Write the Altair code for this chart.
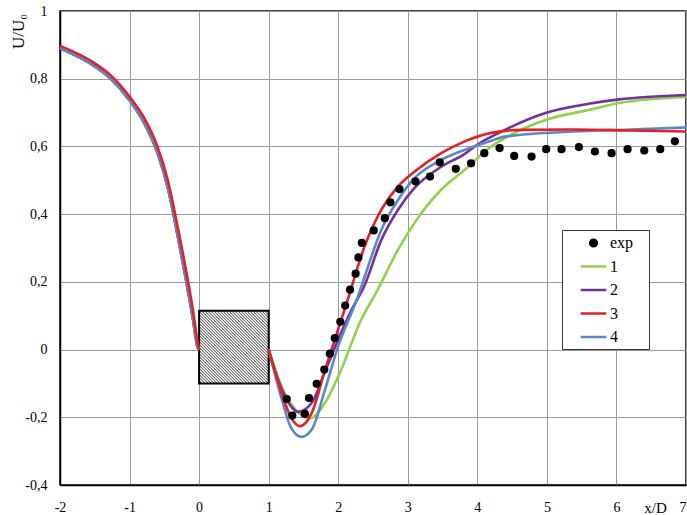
import altair as alt
import pandas as pd
import numpy as np

# ---------------- data ----------------
series_names = ["exp", "1", "2", "3", "4"]
series_colors = ["black", "#92d050", "#7030a0", "#e41f26", "#5b87c6"]

# upstream part (x < 0), common shape for all simulations
up_x = [-2.0, -1.51, -1.27, -1.0, -0.79, -0.6, -0.45, -0.31, -0.19, -0.09, -0.02, 0.0]
up_y_3 = [0.897, 0.847, 0.810, 0.747, 0.684, 0.600, 0.500, 0.364, 0.236, 0.118, 0.020, 0.0]
up_y_other = [0.890, 0.838, 0.800, 0.736, 0.669, 0.582, 0.478, 0.338, 0.208, 0.092, 0.005, 0.0]

# downstream part (x > 1)
d1_x = [1.0, 1.17, 1.32, 1.45, 1.6, 1.81, 2.0, 2.33, 2.55, 2.86, 3.1, 3.48, 3.82, 4.2, 4.4, 4.98, 5.6, 6.04, 7.0]
d1_y = [0.0, -0.10, -0.16, -0.19, -0.203, -0.157, -0.08, 0.088, 0.17, 0.295, 0.375, 0.472, 0.531, 0.60, 0.625, 0.678, 0.708, 0.728, 0.746]

d2_x = [1.0, 1.17, 1.32, 1.42, 1.62, 1.81, 2.0, 2.2, 2.38, 2.62, 2.86, 3.1, 3.48, 3.82, 4.0, 4.31, 4.98, 5.6, 6.04, 7.0]
d2_y = [0.0, -0.108, -0.167, -0.184, -0.157, -0.065, 0.03, 0.12, 0.19, 0.324, 0.413, 0.478, 0.54, 0.578, 0.605, 0.64, 0.699, 0.726, 0.739, 0.752]

d3_x = [1.0, 1.17, 1.32, 1.45, 1.62, 1.81, 2.0, 2.14, 2.38, 2.62, 2.86, 3.1, 3.48, 3.82, 4.2, 4.65, 5.4, 6.2, 7.0]
d3_y = [0.0, -0.118, -0.2, -0.226, -0.187, -0.06, 0.06, 0.15, 0.305, 0.413, 0.482, 0.526, 0.58, 0.615, 0.64, 0.649, 0.65, 0.647, 0.644]

d4_x = [1.0, 1.17, 1.32, 1.47, 1.62, 1.81, 2.0, 2.28, 2.38, 2.62, 2.86, 3.1, 3.48, 3.82, 4.2, 4.4, 5.37, 6.2, 7.0]
d4_y = [0.0, -0.133, -0.23, -0.258, -0.236, -0.118, 0.01, 0.155, 0.215, 0.354, 0.442, 0.507, 0.56, 0.59, 0.617, 0.629, 0.644, 0.65, 0.656]

# experiment
exp_x = [1.26, 1.34, 1.52, 1.58, 1.69, 1.80, 1.88, 1.95, 2.03, 2.10, 2.17, 2.25, 2.29, 2.34, 2.51,
         2.67, 2.75, 2.88, 3.11, 3.32, 3.46, 3.69, 3.91, 4.10, 4.32, 4.53, 4.78, 4.99, 5.21, 5.46,
         5.69, 5.93, 6.16, 6.40, 6.63, 6.84]
exp_y = [-0.146, -0.195, -0.19, -0.143, -0.101, -0.059, -0.012, 0.034, 0.082, 0.13, 0.177, 0.224, 0.272, 0.315, 0.352,
         0.388, 0.435, 0.474, 0.497, 0.511, 0.553, 0.534, 0.55, 0.58, 0.595, 0.572, 0.57, 0.592, 0.592, 0.598,
         0.585, 0.58, 0.592, 0.588, 0.592, 0.615]

# obstacle (square cylinder)
box_x = [0.0, 1.0]
box_y = [-0.1, 0.115]

x_ticks = [-2, -1, 0, 1, 2, 3, 4, 5, 6, 7]
y_ticks = [-0.4, -0.2, 0.0, 0.2, 0.4, 0.6, 0.8, 1.0]
x_dom = [-2, 7]
y_dom = [-0.4, 1.0]

# ---------------- tables ----------------
W, H = 626, 474
rows = []
downs = {"1": (d1_x, d1_y), "2": (d2_x, d2_y), "3": (d3_x, d3_y), "4": (d4_x, d4_y)}
for s in ["1", "2", "4", "3"]:
    uy = up_y_3 if s == "3" else up_y_other
    for x, y in zip(up_x, uy):
        rows.append(dict(x=x, y=y, series=s, seg=s + "u"))
    dx, dy = downs[s]
    for x, y in zip(dx, dy):
        rows.append(dict(x=x, y=y, series=s, seg=s + "d"))
lines_df = pd.DataFrame(rows)

exp_df = pd.DataFrame(dict(x=exp_x, y=exp_y, series="exp"))
box_df = pd.DataFrame([dict(x0=box_x[0], x1=box_x[1], y0=box_y[0], y1=box_y[1])])

ppx = W / (x_dom[1] - x_dom[0])
ppy = H / (y_dom[1] - y_dom[0])
bw = (box_x[1] - box_x[0]) * ppx
bh = (box_y[1] - box_y[0]) * ppy
hatch = []
for c in np.arange(-bh, bw, 3.0):
    py0 = max(0.0, -c)
    py1 = min(bh, bw - c)
    if py1 <= py0:
        continue
    hatch.append(dict(x=box_x[0] + (py0 + c) / ppx, y=box_y[1] - py0 / ppy,
                      x2=box_x[0] + (py1 + c) / ppx, y2=box_y[1] - py1 / ppy))
hatch_df = pd.DataFrame(hatch)

# ---------------- chart ----------------
FONT = "Liberation Serif, Times New Roman, serif"
xs = alt.Scale(domain=x_dom, nice=False, zero=False)
ys = alt.Scale(domain=y_dom, nice=False, zero=False)

x_axis = alt.Axis(values=x_ticks, title="x/D", grid=True, ticks=False,
                  labelExpr="(datum.value < 0 ? '-' : '') + abs(datum.value)",
                  labelAlign={"condition": {"test": "datum.value == 7", "value": "right"}, "value": "center"},
                  labelPadding=15, labelFontSize=14, labelFont=FONT, labelColor="black",
                  titleFont=FONT, titleFontSize=15, titleFontWeight="normal", titleColor="black",
                  titleX=595, titleY=22, titleAlign="center", titleBaseline="middle",
                  domainColor="black", domainWidth=1.5, gridColor="#9a9a9a", gridWidth=1)
y_axis = alt.Axis(values=y_ticks, title="U/U₀", grid=True, ticks=False,
                  labelExpr="(datum.value < -0.001 ? '-' : '') + replace(format(abs(datum.value), '.1~f'), '.', ',')",
                  labelPadding=13, labelFontSize=14, labelFont=FONT, labelColor="black",
                  titleFont=FONT, titleFontSize=17, titleFontWeight="normal", titleColor="black",
                  titleAngle=270, titleX=-42, titleY=20, titleAlign="center", titleBaseline="middle",
                  domainColor="black", domainWidth=1.5, gridColor="#9a9a9a", gridWidth=1)

# symbol paths (unit box, scaled by sqrt(size)/2 = 8 px)
circle_path = "M-0.42,0A0.42,0.42 0 1,0 0.42,0A0.42,0.42 0 1,0 -0.42,0Z"
line_path = "M-1.6,0L1.6,0"
SYM_SIZE = 256
stroke_scale = alt.Scale(domain=series_names, range=series_colors)
shape_scale = alt.Scale(domain=series_names, range=[circle_path, line_path, line_path, line_path, line_path])

legend = alt.Legend(title=None, orient="none", legendX=502, legendY=219,
                    symbolSize=SYM_SIZE, symbolStrokeWidth=2.5, symbolFillColor="black",
                    labelFont=FONT, labelFontSize=16, labelColor="black",
                    strokeColor="#333333", fillColor="white", padding=3.5, rowPadding=5.5,
                    symbolOffset=18.5, labelOffset=7,
                    labelExpr="datum.label + '\u2800'")

box_fill = alt.Chart(box_df).mark_rect(fill="white").encode(
    x=alt.X("x0:Q", scale=xs, axis=x_axis), x2="x1:Q",
    y=alt.Y("y0:Q", scale=ys, axis=y_axis), y2="y1:Q")
hatch_layer = alt.Chart(hatch_df).mark_rule(color="#222222", strokeWidth=0.9).encode(
    x=alt.X("x:Q", scale=xs), x2="x2:Q", y=alt.Y("y:Q", scale=ys), y2="y2:Q")
box_border = alt.Chart(box_df).mark_rect(fillOpacity=0, stroke="black", strokeWidth=2).encode(
    x=alt.X("x0:Q", scale=xs), x2="x1:Q", y=alt.Y("y0:Q", scale=ys), y2="y1:Q")

lines = alt.Chart(lines_df).mark_line(strokeWidth=2.6, interpolate="monotone").encode(
    x=alt.X("x:Q", scale=xs),
    y=alt.Y("y:Q", scale=ys),
    stroke=alt.Stroke("series:N", scale=stroke_scale, legend=legend),
    detail="seg:N")

points = alt.Chart(exp_df).mark_point(filled=True, size=SYM_SIZE, strokeWidth=1.5, opacity=1, color="black").encode(
    x=alt.X("x:Q", scale=xs),
    y=alt.Y("y:Q", scale=ys),
    stroke=alt.Stroke("series:N", scale=stroke_scale, legend=legend),
    shape=alt.Shape("series:N", scale=shape_scale, legend=legend),
    fill=alt.value("black"))

chart = alt.layer(box_fill, hatch_layer, box_border, lines, points).properties(
    width=W, height=H,
    autosize=alt.AutoSizeParams(type="none"),
    padding={"left": 60, "top": 11, "right": 1, "bottom": 30},
    background="white",
).configure_view(stroke="black", strokeWidth=1.5)

chart.save("out.html", embed_options={"renderer": "svg", "actions": False})
